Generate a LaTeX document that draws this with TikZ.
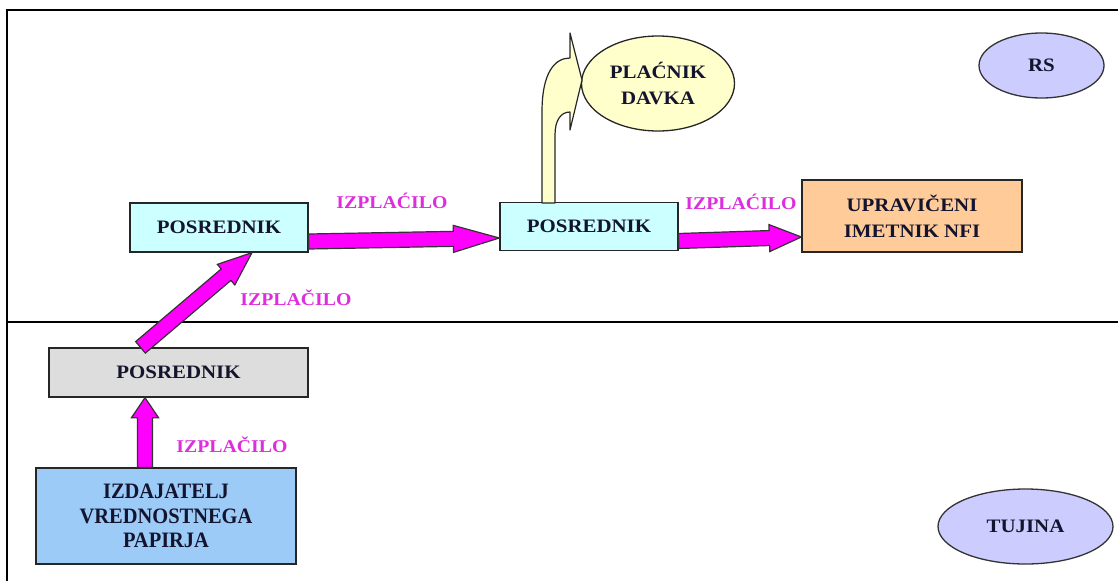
\documentclass[tikz,border=0pt]{standalone}
\usepackage{fontspec}
\setmainfont[FakeStretch=1.1]{Liberation Serif}
\newfontfamily\issuerfont[FakeStretch=0.93]{Liberation Serif}
\usetikzlibrary{calc,shapes.geometric}

\definecolor{boxcyan}{HTML}{CCFFFF}
\definecolor{boxgray}{HTML}{DDDDDD}
\definecolor{boxblue}{HTML}{9CCBF7}
\definecolor{boxorange}{HTML}{FFCC99}
\definecolor{ellyellow}{HTML}{FFFFCC}
\definecolor{elllav}{HTML}{CCCCFF}
\definecolor{flowmag}{HTML}{FF00FF}
\definecolor{labelmag}{HTML}{DD2EDD}
\definecolor{inkdark}{HTML}{14142E}

\tikzset{
  every node/.style={font=\bfseries\fontsize{19}{26}\selectfont, text=inkdark, align=center, inner sep=0pt},
  stagebox/.style={draw=black!85, line width=1.3pt, minimum width=#1},
  zone/.style={ellipse, draw=black!80, line width=1.3pt, fill=elllav},
  flowlabel/.style={text=labelmag, font=\bfseries\fontsize{18}{22}\selectfont},
  barrow/.style={draw=black!80, line width=1.2pt, fill=flowmag, line join=miter},
  yarrow/.style={draw=black!85, line width=1.2pt, fill=ellyellow, line join=round},
  frameline/.style={draw=black, line width=2pt}
}

% block arrow: tail, tip, head length
\newcommand\blockarrow[3]{%
  \coordinate (ba-h) at ($(#2)!#3!(#1)$);
  \draw[barrow] ($(#1)!7.5pt!90:(#2)$) -- ($(ba-h)!7.5pt!-90:(#1)$) -- ($(ba-h)!13.5pt!-90:(#1)$)
    -- (#2) -- ($(ba-h)!13.5pt!90:(#1)$) -- ($(ba-h)!7.5pt!90:(#1)$) -- ($(#1)!7.5pt!-90:(#2)$) -- cycle;}

\begin{document}
\begin{tikzpicture}[x=1pt,y=-1pt]
\useasboundingbox (0,0) rectangle (1118,581);

% frame of the two zones
\draw[frameline] (1118,10) -- (7,10) -- (7,581);
\draw[frameline] (7,322) -- (1118,322);

% zones
\node[zone, minimum width=125pt, minimum height=65pt] (rs) at (1041.5,65.5) {RS};
\node[zone, minimum width=175pt, minimum height=75pt] (tu) at (1025.5,526.5) {TUJINA};

% participants
\node[stagebox=178pt, minimum height=49pt, fill=boxcyan] (p1) at (219,227.5) {POSREDNIK};
\node[stagebox=178pt, minimum height=48pt, fill=boxcyan] (p2) at (589,226.5) {POSREDNIK};
\node[stagebox=220pt, minimum height=72pt, fill=boxorange] (up) at (912,216) {UPRAVIČENI\\IMETNIK NFI};
\node[stagebox=259pt, minimum height=49pt, fill=boxgray] (g) at (178.5,372.5) {POSREDNIK};
\node[stagebox=260pt, minimum height=96pt, fill=boxblue, font=\issuerfont\bfseries\fontsize{22}{24.5}\selectfont] (iz) at (166,516) {IZDAJATELJ\\VREDNOSTNEGA\\PAPIRJA};
\node[ellipse, draw=black!85, line width=1.3pt, fill=ellyellow, minimum width=153pt, minimum height=95pt] (pd) at (658,83.5) {PLAĆNIK\\DAVKA};

% tax branch from the domestic intermediary
\draw[yarrow] (542,203) -- (542,112) .. controls (542,72) and (555,58) .. (570,58)
  -- (570,33) -- (582,80) -- (570,130) -- (570,112)
  .. controls (561,112) and (555,120) .. (555,135) -- (555,203) -- cycle;

% payment flow
\coordinate (a4t) at ([xshift=-21pt]iz.north);
\coordinate (a4h) at (a4t |- g.south);
\blockarrow{a4t}{a4h}{20pt}

\coordinate (a3t) at ([xshift=-38pt]g.north);
\coordinate (a3h) at ([xshift=33pt]p1.south);
\blockarrow{a3t}{a3h}{34pt}

\coordinate (a1t) at ([yshift=-14pt]p1.east);
\coordinate (a1h) at ([yshift=-11.5pt]p2.west);
\blockarrow{a1t}{a1h}{46pt}

\coordinate (a2t) at ([yshift=-14.5pt]p2.east);
\coordinate (a2h) at ([yshift=-21pt]up.west);
\blockarrow{a2t}{a2h}{32pt}

% flow labels
\node[flowlabel] (l1) at (392,201) {IZPLAĆILO};
\node[flowlabel] (l2) at (296,298) {IZPLAČILO};
\node[flowlabel] (l3) at (741,202) {IZPLAĆILO};
\node[flowlabel] (l4) at (232,445) {IZPLAČILO};
\end{tikzpicture}
\end{document}
